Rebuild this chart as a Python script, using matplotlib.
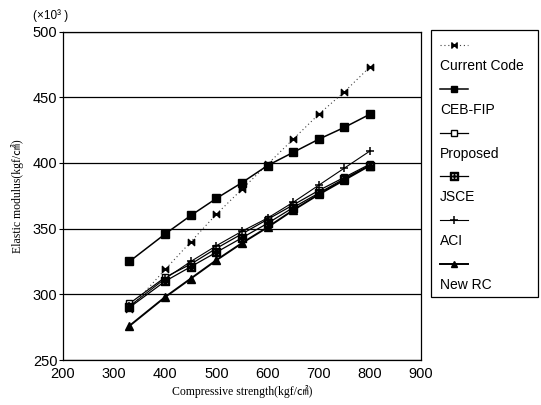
import matplotlib
matplotlib.use("Agg")
import matplotlib.pyplot as plt
from matplotlib.path import Path
from matplotlib.lines import Line2D
from matplotlib.patches import Rectangle

# ---- data ----
strength = [330, 400, 450, 500, 550, 600, 650, 700, 750, 800]
current_code = [289, 319, 340, 361, 380, 399, 418, 437, 454, 473]
ceb_fip = [325, 346, 360, 373, 385, 398, 408, 418, 427, 437]
proposed = [293, 313, 323, 335, 346, 357, 368, 379, 389, 399]
jsce = [290, 310, 321, 332, 343, 354, 366, 377, 388, 398]
aci = [291, 312, 325, 337, 348, 358, 370, 383, 396, 409]
new_rc = [276, 298, 312, 326, 339, 351, 364, 376, 387, 398]
series_names = ["Current Code", "CEB-FIP", "Proposed", "JSCE", "ACI", "New RC"]
x_ticks = [200, 300, 400, 500, 600, 700, 800, 900]
y_ticks = [250, 300, 350, 400, 450, 500]

bowtie = Path([(-1, 1), (1, -1), (1, 1), (-1, -1), (-1, 1)],
              [Path.MOVETO, Path.LINETO, Path.LINETO, Path.LINETO, Path.CLOSEPOLY])

styles = {
    "Current Code": dict(color="0.25", ls=(0, (1, 2.5)), lw=0.8, marker=bowtie, ms=4.5,
                          mfc="black", mec="black"),
    "CEB-FIP": dict(color="black", ls="-", lw=1.1, marker="s", ms=5.5, mfc="black", mec="black"),
    "Proposed": dict(color="black", ls="-", lw=0.9, marker="s", ms=4.5, mfc="white", mec="black", mew=1.0),
    "JSCE": dict(color="black", ls="-", lw=0.9, marker=r"$\boxplus$", ms=6, mfc="black", mec="black"),
    "ACI": dict(color="black", ls="-", lw=0.8, marker="+", ms=6, mfc="black", mec="black", mew=1.1),
    "New RC": dict(color="black", ls="-", lw=1.4, marker="^", ms=5.5, mfc="black", mec="black"),
}
data = {"Current Code": current_code, "CEB-FIP": ceb_fip, "Proposed": proposed,
        "JSCE": jsce, "ACI": aci, "New RC": new_rc}

fig = plt.figure(figsize=(5.41, 4.05), dpi=100)
ax = fig.add_axes([63/541, 1-360/405, (421-63)/541, (360-31.5)/405])

for name in series_names:
    ax.plot(strength, data[name], **styles[name], zorder=3)

ax.set_xlim(200, 900)
ax.set_ylim(250, 500)
ax.set_xticks(x_ticks)
ax.set_yticks(y_ticks)
tick_font = dict(family="Liberation Sans", size=10.5)
ax.set_xticklabels([str(t) for t in x_ticks], **tick_font)
ax.set_yticklabels([str(t) for t in y_ticks], **tick_font)
ax.tick_params(axis="y", direction="out", length=3, width=0.8, pad=1)
ax.tick_params(axis="x", direction="out", length=0, pad=5)
ax.yaxis.grid(True, color="black", lw=0.9)
ax.set_axisbelow(True)
for sp in ax.spines.values():
    sp.set_linewidth(0.9)

lab_family = ["Liberation Serif", "Noto Sans CJK JP"]
ax.set_xlabel("Compressive strength(kgf/㎠)", family=lab_family, size=8.5, labelpad=3)
ax.set_ylabel("Elastic modulus(kgf/㎠)", family=lab_family, size=8.5, labelpad=6)
fig.text(33/541, 1-16/405, "(×10³ )", family="Liberation Sans", size=8.5, va="center", ha="left")

# ---- legend drawn manually at right ----
lx0, lx1 = 431/541, 538/541
ly_top, ly_bot = 1-30/405, 1-297/405
fig.patches.append(Rectangle((lx0, ly_bot), lx1-lx0, ly_top-ly_bot, transform=fig.transFigure,
                             fill=False, lw=0.9, ec="black"))
for i, name in enumerate(series_names):
    ym = 1-(45 + i*43.8)/405
    yt = 1-(66 + i*43.8)/405
    st = dict(styles[name])
    st["ms"] = st["ms"] * 0.85
    ln = Line2D([440/541, 454/541, 468/541], [ym, ym, ym], transform=fig.transFigure, **st)
    ln.set_markevery([1])
    fig.lines.append(ln)
    fig.text(440/541, yt, name, family="Liberation Sans", size=10, va="center", ha="left")

fig.savefig("out.png", dpi=100, facecolor="white")
